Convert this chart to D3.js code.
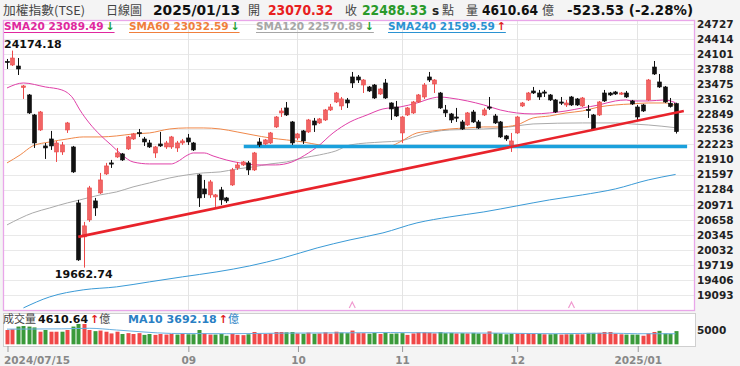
<!DOCTYPE html>
<html><head><meta charset="utf-8">
<script src="https://cdn.jsdelivr.net/npm/d3@7"></script>
<style>
html,body{margin:0;padding:0;background:#f3f3f3;}
svg{display:block;}
</style></head><body>
<svg id="c" width="740" height="366"></svg>
<script>
// ---------------- DATA ----------------
const dates = [
"2024-07-15","2024-07-16","2024-07-17","2024-07-18","2024-07-19","2024-07-22","2024-07-23","2024-07-26","2024-07-29","2024-07-30","2024-07-31",
"2024-08-01","2024-08-02","2024-08-05","2024-08-06","2024-08-07","2024-08-08","2024-08-09","2024-08-12","2024-08-13","2024-08-14","2024-08-15","2024-08-16","2024-08-19","2024-08-20","2024-08-21","2024-08-22","2024-08-23","2024-08-26","2024-08-27","2024-08-28","2024-08-29","2024-08-30",
"2024-09-02","2024-09-03","2024-09-04","2024-09-05","2024-09-06","2024-09-09","2024-09-10","2024-09-11","2024-09-12","2024-09-13","2024-09-16","2024-09-18","2024-09-19","2024-09-20","2024-09-23","2024-09-24","2024-09-25","2024-09-26","2024-09-27","2024-09-30",
"2024-10-01","2024-10-04","2024-10-07","2024-10-08","2024-10-09","2024-10-11","2024-10-14","2024-10-15","2024-10-16","2024-10-17","2024-10-18","2024-10-21","2024-10-22","2024-10-23","2024-10-24","2024-10-25","2024-10-28","2024-10-29","2024-10-30",
"2024-11-01","2024-11-04","2024-11-05","2024-11-06","2024-11-07","2024-11-08","2024-11-11","2024-11-12","2024-11-13","2024-11-14","2024-11-15","2024-11-18","2024-11-19","2024-11-20","2024-11-21","2024-11-22","2024-11-25","2024-11-26","2024-11-27","2024-11-28","2024-11-29",
"2024-12-02","2024-12-03","2024-12-04","2024-12-05","2024-12-06","2024-12-09","2024-12-10","2024-12-11","2024-12-12","2024-12-13","2024-12-16","2024-12-17","2024-12-18","2024-12-19","2024-12-20","2024-12-23","2024-12-24","2024-12-25","2024-12-26","2024-12-27","2024-12-30","2024-12-31",
"2025-01-02","2025-01-03","2025-01-06","2025-01-07","2025-01-08","2025-01-09","2025-01-10","2025-01-13"];

const openP = [23950,23875,23854,23408,23252,22836,22524,22192,22337,22067,22067,22524,22171,21007,20301,20654,21049,21215,21610,21839,21963,22026,22130,22337,22470,22337,22254,22046,22233,22171,22171,22150,22254,22358,22254,21589,21298,21174,21132,21278,21111,21381,21735,21797,21839,21693,22275,22233,22254,22587,22878,22982,22691,22358,22504,22483,22711,22670,22732,22940,23106,23023,23148,23626,23626,23459,23418,23459,23272,23501,23085,23002,22462,22836,22878,23106,23210,23626,23480,23293,22940,22857,22794,22691,22628,22898,22691,22836,23002,22815,22691,22400,22213,22462,23023,23148,23335,23293,23314,23252,23148,23106,23044,23210,23169,23023,22950,22836,22836,23293,23293,23314,23272,23293,23127,23002,23044,23148,23833,23522,23418,23080,23070.32];
const highP = [24000,24174.18,24020,23459,23272,22857,22919,22254,22504,22296,22275,22691,22192,21070,20613,21361,21111,21631,21839,21901,22150,22046,22400,22462,22545,22379,22317,22192,22483,22296,22400,22296,22337,22441,22275,21610,21485,21485,21194,21340,21132,21735,21859,21880,21880,22067,22358,22337,22483,22815,22982,23106,22711,22462,22524,22753,22774,22774,22961,23065,23314,23210,23189,23730,23667,23580,23439,23480,23397,23584,23100,23127,22815,23002,23127,23272,23501,23730,23580,23314,23044,22878,22982,22732,22898,22940,22732,22982,23210,22857,22711,22420,22462,22815,23106,23314,23418,23356,23356,23272,23169,23210,23148,23231,23189,23210,23044,22857,23127,23356,23314,23335,23314,23335,23148,23044,23065,23584,23958,23688,23439,23189,23090];
const lowP = [23792,23854,23667,23169,22857,22150,22504,21922,22109,21859,22005,22462,21631,19802,19662.74,20613,20737,21194,21589,21735,21943,21880,22109,22317,22379,22192,22150,21943,22171,22130,22130,22067,22213,22213,22088,20924,21111,21111,20924,20966,21007,21361,21693,21776,21589,21672,22171,22213,22233,22566,22794,22815,22213,22317,22233,22462,22483,22649,22711,22919,23085,22940,22982,23397,23501,23293,23314,23169,23252,23169,22732,22794,22254,22815,22857,23085,23169,23522,23293,22961,22794,22670,22691,22524,22607,22670,22545,22815,22940,22649,22358,22296,22067,22441,23002,23127,23272,23148,23210,23127,22878,23044,23002,23023,23023,23002,22774,22524,22815,23106,23231,23252,23252,23189,23044,22732,22898,23127,23667,23397,23085,22990,22450];
const closeP = [23940,24020,23792,23439,22878,22254,22898,22150,22192,22254,22213,22670,21652,19823,20530,21319,20903,21485,21776,21818,22046,21901,22379,22441,22455,22275,22171,22171,22192,22254,22379,22254,22296,22275,22109,21111,21194,21444,21174,21070,21049,21693,21797,21859,21693,22046,22213,22317,22462,22794,22919,22836,22254,22441,22296,22732,22628,22753,22940,23002,23293,23169,23085,23501,23563,23563,23335,23189,23376,23189,22961,22815,22794,22982,23106,23252,23459,23563,23563,22982,22878,22732,22774,22545,22878,22691,22566,22940,22982,22670,22379,22337,22296,22794,23085,23293,23293,23210,23293,23148,22898,23085,23085,23044,23044,23189,22940,22545,23106,23127,23252,23272,23293,23210,23065,22794,22919,23563,23688,23418,23106,23011.86,22488.33];
const prevClose = 23916.93;

// volume (億)
const volume = [5000,5250,6200,6400,6200,5900,4400,5000,4400,4400,4400,5000,6200,7100,7100,5000,4600,4800,4400,3800,4400,3600,3900,3600,3900,3300,3600,3300,3600,3400,3600,3400,3600,3500,3500,5000,3800,3400,3400,3600,3000,3700,3300,3200,3500,4300,3800,3600,3800,4300,4300,4200,4300,3800,3700,4100,3700,3800,4200,3700,4400,4100,3900,4800,3900,3900,3700,4000,3600,4200,3700,3800,3900,3300,3800,4200,4200,4100,3800,4300,3900,4000,3800,3900,3800,4000,3800,3700,4500,3900,3800,3500,3700,3700,3900,3900,3700,3600,3500,3500,3600,3400,3500,3500,3500,3500,4000,4000,4000,4300,4300,3700,3500,3400,3400,3400,3000,3800,4300,4700,3800,3700,4610.64];
const volMA10 = [[0,5300],[10,5400],[15,5600],[20,5000],[25,4300],[30,3800],[40,3700],[50,3900],[60,4000],[70,4100],[80,4000],[90,3900],[100,3700],[110,3900],[115,3700],[122,3692.18]];

// moving averages read at sample days: [dayIndex, value]
const sma20 = [[0,23397],[3,23501],[7,23418],[10,23356],[12,23189],[13.3,22940],[15,22670],[17,22420],[19,22213],[21,22005],[23,21859],[26,21818],[30,21818],[31,21859],[33,22005],[34,22046],[36,22046],[37.6,21984],[40,21901],[42.5,21839],[46,21797],[49,21797],[52,21859],[53.5,21943],[55,22046],[56.6,22171],[59.5,22462],[62.6,22691],[65.7,22836],[68.6,22961],[71.7,23002],[74.8,23085],[77.7,23189],[79,23210],[80.8,23189],[84,23127],[87,23044],[90,22940],[93,22878],[96,22857],[99,22878],[102,22919],[105,22982],[108,23044],[111,23127],[113,23148],[114,23127],[117,23127],[120,23148],[122,23089.49]];
const sma60 = [[0,21839],[2.4,22005],[4.7,22192],[7.8,22275],[11,22337],[13.9,22379],[17,22379],[20,22400],[23,22441],[26,22462],[29.7,22545],[32.8,22566],[35.8,22566],[38.9,22545],[42,22483],[44.9,22420],[48,22358],[51,22317],[54,22275],[57,22213],[61.7,22171],[66,22171],[70,22192],[71.7,22275],[74.8,22462],[77.7,22504],[80.8,22545],[84,22566],[87,22587],[90,22587],[93,22628],[96,22774],[99,22815],[102,22878],[105,22919],[108,23002],[111,23044],[114,23065],[117,23085],[120,23085],[122,23032.59]];
const sma120 = [[0,20550],[4.7,20800],[7.8,20903],[11,21007],[13.3,21070],[17,21174],[20,21236],[23,21340],[26,21423],[29.7,21527],[32.8,21589],[35.8,21631],[38.9,21652],[42,21714],[44.9,21756],[48,21818],[51,21859],[54,21943],[57,22005],[60,22088],[62.6,22213],[68.6,22275],[71.7,22296],[74.8,22400],[77.7,22483],[80.8,22524],[87,22545],[90,22566],[93,22607],[96,22649],[105,22670],[111,22670],[114,22649],[117,22628],[122,22570.89]];
const sma240 = [[3,18825],[7.8,19054],[13.9,19200],[20,19262],[26,19366],[32,19470],[38.3,19574],[44.3,19698],[50.4,19865],[56.6,20072],[62.6,20239],[68.6,20384],[74.8,20592],[80.8,20717],[87,20820],[93,20945],[99,21070],[105,21174],[111,21298],[117,21485],[122,21599.59]];

// drawn lines: [dayIndex, value]
const trendLine = [[13,20301],[123.5,22919]];
const supportLine = [[43.2,22181],[124.1,22181]];
// event markers (day indices)
const markers = [63, 103];

const yTicks = [24727,24414,24101,23788,23475,23162,22849,22536,22223,21910,21597,21284,20971,20658,20345,20032,19719,19406,19093];
const xTickDates = ["2024-07-15","2024-09-02","2024-10-01","2024-11-01","2024-12-02","2025-01-02"];
const xTickLabels = ["2024/07/15","09","10","11","12","2025/01"];

const legendItems = [
  {name:"SMA20", value:"23089.49", up:false, color:"#e0289e"},
  {name:"SMA60", value:"23032.59", up:false, color:"#f07f3c"},
  {name:"SMA120", value:"22570.89", up:false, color:"#a6a6a6"},
  {name:"SMA240", value:"21599.59", up:true, color:"#2a92d2"}
];
const header = {title:"加權指數(TSE)", kind:"日線圖", date:"2025/01/13", open:"23070.32", close:"22488.33", vol:"4610.64", chg:"-523.53 (-2.28%)"};
const volHeader = {vol:"4610.64", ma:"3692.18"};

// ---------------- LAYOUT ----------------
const W=740, H=366;
const PL=3, PR=694, PT=20, PB=310;
const VT=313, VB=346;
const svg = d3.select("#c");
const font = "'DejaVu Sans', Verdana, sans-serif";
const cjk = "'Noto Sans CJK TC', 'Noto Sans CJK SC', sans-serif";

const x = d3.scaleLinear().domain([0, dates.length-1]).range([7, 675.6]);
const y = d3.scaleLinear().domain([19093, 24727]).range([295, 24]);
const yv = d3.scaleLinear().domain([0, 5000]).range([344.3, 330]);

svg.append("rect").attr("width",W).attr("height",H).attr("fill","#f4f4f4");
svg.append("rect").attr("x",PL).attr("y",PT).attr("width",PR-PL).attr("height",PB-PT).attr("fill","#fff");

const defs = svg.append("defs");
defs.append("clipPath").attr("id","clipMain").append("rect").attr("x",PL).attr("y",PT).attr("width",PR-PL).attr("height",PB-PT);

// horizontal grid
svg.append("g").selectAll("line").data(yTicks).join("line")
  .attr("x1",PL).attr("x2",PR).attr("y1",d=>Math.round(y(d))+0.5).attr("y2",d=>Math.round(y(d))+0.5)
  .attr("stroke","#e9e9e9").attr("stroke-width",1);

const tickIdx = xTickDates.map(d=>dates.indexOf(d));
// vertical grid
svg.append("g").selectAll("line").data(tickIdx.slice(1)).join("line")
  .attr("x1",d=>Math.round(x(d))+0.5).attr("x2",d=>Math.round(x(d))+0.5).attr("y1",PT).attr("y2",PB)
  .attr("stroke","#e4e4e4");

// y axis (right)
const yAxis = d3.axisRight(y).tickValues(yTicks).tickSize(0).tickPadding(0).tickFormat(d3.format("d"));
const gy = svg.append("g").attr("transform",`translate(697,0)`).call(yAxis);
gy.select(".domain").remove();
gy.selectAll("text").attr("font-family",font).attr("font-weight","bold").attr("font-size","10.5px").attr("fill","#222");

// MA lines
const lineGen = d3.line().x(d=>x(d[0])).y(d=>y(d[1])).curve(d3.curveMonotoneX);
const gMA = svg.append("g").attr("clip-path","url(#clipMain)");
[[sma240,"#3a9ad6"],[sma120,"#aaaaaa"],[sma60,"#f0884a"],[sma20,"#e040a8"]].forEach(([d,c])=>{
  gMA.append("path").attr("d",lineGen(d)).attr("fill","none").attr("stroke",c).attr("stroke-width",1);
});

// support (blue) line
const straight = d3.line().x(d=>x(d[0])).y(d=>y(d[1]));
svg.append("path").attr("d",straight(supportLine)).attr("stroke","#1aa0dc").attr("stroke-width",3.5).attr("fill","none");

// candles
const N = dates.length;
const idx = d3.range(N);
const isUp = i => closeP[i] >= openP[i];
const gC = svg.append("g");
gC.selectAll("line").data(idx).join("line")
  .attr("x1",i=>Math.round(x(i))+0.5).attr("x2",i=>Math.round(x(i))+0.5)
  .attr("y1",i=>y(highP[i])).attr("y2",i=>y(lowP[i]))
  .attr("stroke",i=>isUp(i)?"#ee4a4a":"#111").attr("stroke-width",1);
gC.selectAll("rect").data(idx).join("rect")
  .attr("x",i=>Math.round(x(i))-1.5).attr("width",4)
  .attr("y",i=>y(Math.max(openP[i],closeP[i])))
  .attr("height",i=>Math.max(1.2, Math.abs(y(openP[i])-y(closeP[i]))))
  .attr("fill",i=>isUp(i)?"#f26464":"#111")
  .attr("stroke",i=>isUp(i)?"#e84848":"#111").attr("stroke-width",0.6);

// trend (red) line
svg.append("path").attr("d",straight(trendLine)).attr("stroke","#e8232b").attr("stroke-width",2.6).attr("fill","none");

// markers
svg.append("g").selectAll("path").data(markers).join("path")
  .attr("d",i=>`M${x(i)-3},${PB-2} L${x(i)},${PB-8} L${x(i)+3},${PB-2}`)
  .attr("fill","none").attr("stroke","#f09ad0").attr("stroke-width",1.2);

// high / low labels
const hiI = d3.maxIndex(highP), loI = d3.minIndex(lowP);
const hiT = svg.append("text").text(highP[hiI].toFixed(2)).attr("font-family",font).attr("font-weight","bold").attr("font-size","11px").attr("fill","#111")
  .attr("y", y(highP[hiI])-3);
const hiW = hiT.node().getComputedTextLength();
hiT.attr("x", Math.max(PL+1, x(hiI)-hiW/2));
svg.append("text").text(lowP[loI].toFixed(2)).attr("font-family",font).attr("font-weight","bold").attr("font-size","11px").attr("fill","#111")
  .attr("y", y(lowP[loI])+10).attr("text-anchor","middle").attr("x", x(loI));

// main frame
svg.append("rect").attr("x",PL+0.5).attr("y",PT+0.5).attr("width",PR-PL).attr("height",PB-PT).attr("fill","none").attr("stroke","#e9a6e9").attr("stroke-width",1.3);

// legend
const legX = [4, 129, 256, 388];
legendItems.forEach((it,k)=>{
  const lx = legX[k];
  const g = svg.append("g");
  const t = g.append("text").attr("x",lx).attr("y",30).attr("font-family",font).attr("font-weight","bold").attr("font-size","10.5px").attr("fill",it.color)
    .text(`${it.name} ${it.value}`);
  const w = t.node().getComputedTextLength();
  g.append("text").attr("x",lx+w+2).attr("y",30).attr("font-family",font).attr("font-weight","bold").attr("font-size","11px")
    .attr("fill",it.up?"#e02020":"#22a030").text(it.up?"↑":"↓");
  g.append("line").attr("x1",lx).attr("x2",lx+w+11).attr("y1",32.5).attr("y2",32.5).attr("stroke",it.color).attr("stroke-width",1);
});

// header
const hy = 14.5;
function htext(xp, txt, opt){
  const t = svg.append("text").attr("x",xp).attr("y",hy).text(txt)
    .attr("font-family",opt.cjk?cjk:font).attr("font-size",opt.size||"12px")
    .attr("font-weight",opt.bold?"bold":"normal").attr("fill",opt.color||"#444");
  if(opt.w) t.attr("textLength",opt.w).attr("lengthAdjust","spacingAndGlyphs");
  return t;
}
htext(3, header.title, {cjk:true, w:82});
htext(106, header.kind, {cjk:true});
htext(153, header.date, {bold:true, size:"14px", color:"#111", w:87});
htext(248, "開", {cjk:true});
htext(268, header.open, {bold:true, size:"13.5px", color:"#e82020", w:65});
htext(345, "收", {cjk:true});
htext(362, header.close, {bold:true, size:"13.5px", color:"#2a9a2a", w:65});
htext(432, "s", {bold:true, size:"12px", color:"#222"});
htext(442, "點", {cjk:true});
htext(466, "量", {cjk:true});
htext(482, header.vol, {bold:true, size:"13.5px", color:"#111", w:56});
htext(542, "億", {cjk:true});
htext(567, header.chg, {bold:true, size:"13.5px", color:"#111", w:126});

// volume panel
svg.append("rect").attr("x",PL+0.5).attr("y",VT+0.5).attr("width",PR-PL+1).attr("height",VB-VT).attr("fill","#fff").attr("stroke","#cfcfcf");
const volUp = i => closeP[i] >= (i===0 ? prevClose : closeP[i-1]);
svg.append("g").selectAll("rect").data(idx).join("rect")
  .attr("x",i=>Math.round(x(i))-1.5).attr("width",4)
  .attr("y",i=>yv(volume[i])).attr("height",i=>yv(0)-yv(volume[i]))
  .attr("fill",i=>volUp(i)?"#f04848":"#3a9a3a");
svg.append("path").attr("d",d3.line().x(d=>x(d[0])).y(d=>yv(d[1])).curve(d3.curveMonotoneX)(volMA10))
  .attr("fill","none").attr("stroke","#6ab0e0").attr("stroke-width",1);
const vh = svg.append("text").attr("y",323).attr("font-family",font);
vh.append("tspan").attr("x",3).attr("font-family",cjk).attr("font-size","11px").attr("fill","#444").text("成交量");
vh.append("tspan").attr("x",38).attr("font-weight","bold").attr("font-size","11px").attr("fill","#111").text(volHeader.vol);
vh.append("tspan").attr("dx",2).attr("font-weight","bold").attr("font-size","11px").attr("fill","#e02020").text("↑");
vh.append("tspan").attr("font-family",cjk).attr("font-size","11px").attr("fill","#444").text("億");
vh.append("tspan").attr("x",128).attr("font-weight","bold").attr("font-size","11px").attr("fill","#2a7fc4").text("MA10 "+volHeader.ma);
vh.append("tspan").attr("dx",2).attr("font-weight","bold").attr("font-size","11px").attr("fill","#e02020").text("↑");
vh.append("tspan").attr("font-family",cjk).attr("font-size","11px").attr("fill","#2a7fc4").text("億");
const gvy = svg.append("g").attr("transform","translate(697,0)").call(d3.axisRight(yv).tickValues([5000]).tickSize(0).tickPadding(0).tickFormat(d3.format("d")));
gvy.select(".domain").remove();
gvy.selectAll("text").attr("font-family",font).attr("font-weight","bold").attr("font-size","10.5px").attr("fill","#222");

// x axis
const xAxis = d3.axisBottom(x).tickValues(tickIdx).tickSize(6).tickPadding(5).tickFormat((d,k)=>xTickLabels[k]);
const gx = svg.append("g").attr("transform",`translate(0.5,${VB})`).call(xAxis);
gx.select(".domain").remove();
gx.selectAll(".tick line").attr("stroke","#999");
gx.selectAll("text").attr("font-family",font).attr("font-weight","bold").attr("font-size","10.5px").attr("fill","#888");
gx.selectAll(".tick").filter((d,k)=>k===0).select("text").attr("text-anchor","start").attr("dx",-4);
</script>
</body></html>
